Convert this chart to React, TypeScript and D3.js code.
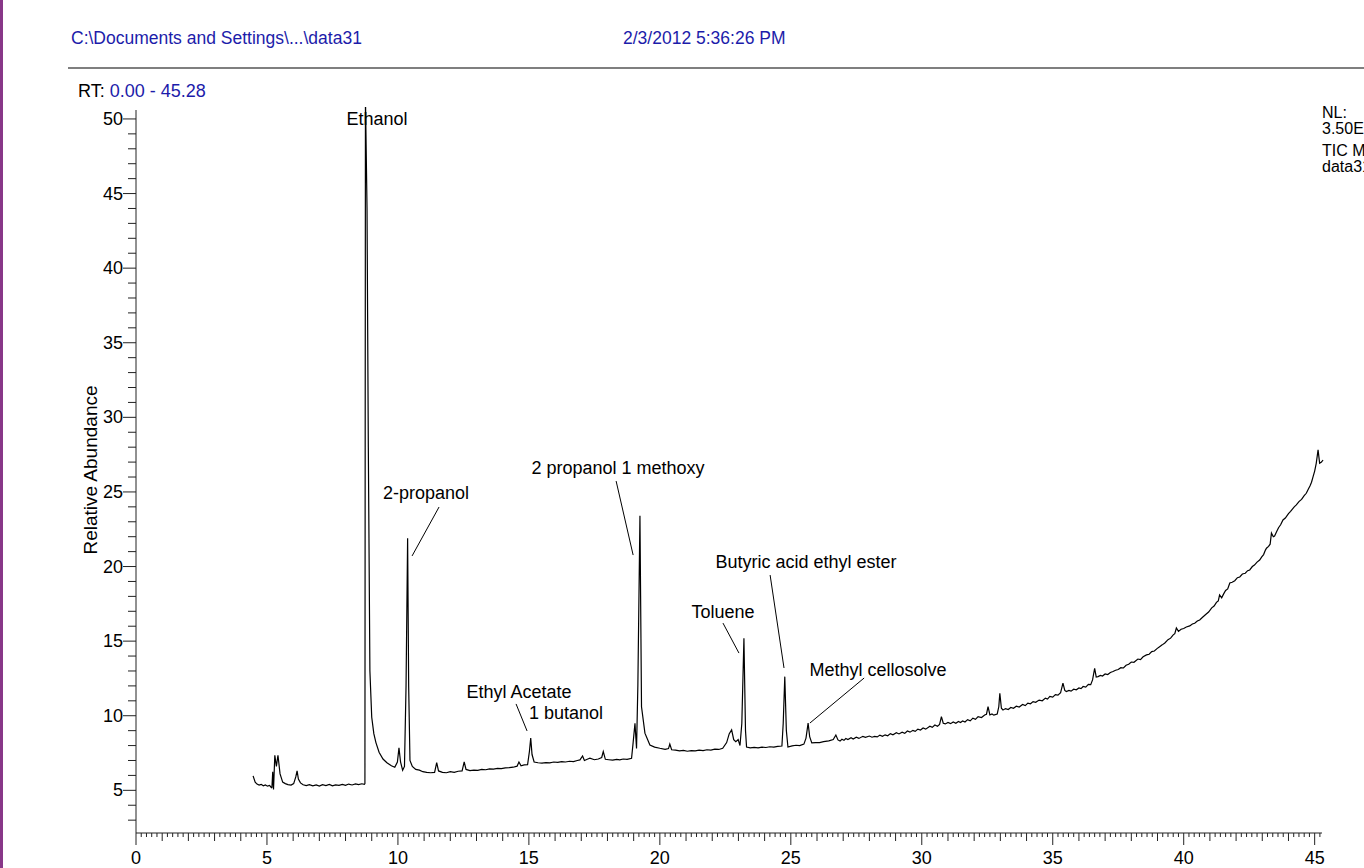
import * as d3 from 'd3';

// TIC chromatogram: [retention time (min), relative abundance]
const ticTrace: [number, number][] = [
  [4.47, 5.97], [4.55, 5.55], [4.62, 5.42], [4.7, 5.35], [4.78, 5.4], [4.86, 5.3], [4.94, 5.36],
  [5.02, 5.28], [5.1, 5.33], [5.17, 5.18], [5.19, 5.2], [5.22, 6.25], [5.25, 5.05], [5.3, 7.35],
  [5.36, 6.6], [5.42, 7.35], [5.5, 6.1], [5.6, 5.55], [5.7, 5.45], [5.8, 5.38], [5.92, 5.35],
  [6.02, 5.45], [6.1, 5.9], [6.15, 6.3], [6.2, 5.75], [6.28, 5.5], [6.38, 5.37], [6.5, 5.32],
  [6.62, 5.38], [6.75, 5.3], [6.88, 5.36], [7.0, 5.29], [7.12, 5.38], [7.25, 5.32], [7.38, 5.4],
  [7.5, 5.3], [7.62, 5.37], [7.75, 5.33], [7.88, 5.4], [8.0, 5.34], [8.12, 5.42], [8.25, 5.36],
  [8.38, 5.43], [8.5, 5.38], [8.62, 5.44], [8.72, 5.4], [8.74, 5.45], [8.76, 51.5], [8.82, 44],
  [8.87, 28], [8.93, 13.0], [9.0, 9.9], [9.08, 8.8], [9.16, 8.2], [9.28, 7.55], [9.43, 7.1],
  [9.58, 6.85], [9.75, 6.65], [9.88, 6.55], [9.98, 6.9], [10.04, 7.85], [10.1, 6.9], [10.18, 6.35],
  [10.25, 6.6], [10.31, 12], [10.37, 21.9], [10.41, 12], [10.46, 7.0], [10.55, 6.6], [10.68, 6.4],
  [10.82, 6.35], [10.95, 6.25], [11.1, 6.2], [11.25, 6.18], [11.4, 6.2], [11.48, 6.85], [11.55, 6.3],
  [11.7, 6.2], [11.85, 6.18], [12.0, 6.25], [12.15, 6.2], [12.3, 6.28], [12.45, 6.3], [12.53, 6.9],
  [12.6, 6.4], [12.75, 6.32], [12.9, 6.36], [13.05, 6.34], [13.2, 6.4], [13.35, 6.38], [13.5, 6.44],
  [13.65, 6.42], [13.8, 6.47], [13.95, 6.45], [14.1, 6.5], [14.25, 6.52], [14.4, 6.55], [14.55, 6.62],
  [14.62, 6.9], [14.7, 6.65], [14.82, 6.7], [14.95, 6.72], [15.02, 7.6], [15.07, 8.5], [15.12, 7.4],
  [15.2, 6.9], [15.35, 6.85], [15.5, 6.82], [15.65, 6.86], [15.8, 6.84], [15.95, 6.9], [16.1, 6.88],
  [16.25, 6.92], [16.4, 6.9], [16.55, 6.95], [16.7, 6.93], [16.85, 7.0], [16.95, 7.04], [17.05, 7.3],
  [17.12, 7.0], [17.25, 7.1], [17.33, 7.15], [17.5, 7.05], [17.65, 7.1], [17.78, 7.2], [17.84, 7.6],
  [17.92, 7.08], [18.05, 7.05], [18.2, 7.02], [18.35, 7.08], [18.47, 7.04], [18.6, 7.1], [18.75, 7.08],
  [18.92, 7.15], [18.98, 8.2], [19.05, 9.5], [19.11, 7.8], [19.16, 12], [19.24, 23.4], [19.3, 10.6],
  [19.43, 8.83], [19.62, 8.04], [19.8, 7.9], [20.0, 7.82], [20.2, 7.75], [20.33, 7.8], [20.38, 8.1],
  [20.45, 7.72], [20.6, 7.7], [20.75, 7.65], [20.9, 7.68], [21.05, 7.62], [21.2, 7.66], [21.35, 7.64],
  [21.5, 7.7], [21.65, 7.66], [21.8, 7.72], [21.95, 7.7], [22.1, 7.76], [22.25, 7.74], [22.4, 7.82],
  [22.55, 8.2], [22.65, 8.8], [22.74, 9.05], [22.82, 8.4], [22.9, 8.26], [22.99, 8.4], [23.06, 8.0],
  [23.13, 9.5], [23.21, 15.2], [23.27, 9.0], [23.31, 7.9], [23.45, 7.85], [23.6, 7.88], [23.75, 7.84],
  [23.9, 7.9], [24.05, 7.87], [24.2, 7.92], [24.35, 7.9], [24.5, 7.95], [24.66, 7.97], [24.71, 9.5],
  [24.77, 12.62], [24.83, 9.0], [24.89, 7.9], [25.05, 7.98], [25.2, 8.02], [25.34, 8.0], [25.5, 8.1],
  [25.58, 8.5], [25.66, 9.5], [25.72, 8.6], [25.8, 8.18], [25.95, 8.2], [26.1, 8.2], [26.25, 8.26],
  [26.45, 8.31], [26.62, 8.4], [26.72, 8.71], [26.8, 8.38], [26.88, 8.3], [26.95, 8.42],
  [27.03, 8.35], [27.1, 8.47], [27.18, 8.4], [27.3, 8.52], [27.38, 8.44], [27.5, 8.56], [27.6, 8.48],
  [27.75, 8.62], [27.85, 8.55], [28.0, 8.64], [28.1, 8.56], [28.2, 8.62], [28.3, 8.58], [28.4, 8.7],
  [28.5, 8.62], [28.6, 8.72], [28.7, 8.66], [28.8, 8.8], [28.9, 8.72], [29.03, 8.86], [29.13, 8.78],
  [29.25, 8.9], [29.35, 8.82], [29.45, 8.98], [29.55, 8.9], [29.66, 9.02], [29.75, 8.95], [29.85, 9.1],
  [29.95, 9.04], [30.05, 9.18], [30.15, 9.1], [30.31, 9.3], [30.4, 9.22], [30.5, 9.38], [30.6, 9.3],
  [30.68, 9.42], [30.75, 9.94], [30.82, 9.5], [30.9, 9.45], [31.0, 9.55], [31.1, 9.47], [31.2, 9.58],
  [31.3, 9.5], [31.4, 9.62], [31.48, 9.55], [31.56, 9.65], [31.65, 9.58], [31.75, 9.74], [31.85, 9.66],
  [31.95, 9.84], [32.05, 9.76], [32.15, 9.94], [32.28, 9.88], [32.4, 10.05], [32.47, 10.1],
  [32.53, 10.61], [32.6, 10.05], [32.68, 10.12], [32.75, 10.04], [32.88, 10.12], [32.94, 10.6],
  [32.98, 11.5], [33.04, 10.5], [33.1, 10.39], [33.2, 10.48], [33.3, 10.42], [33.4, 10.55],
  [33.5, 10.5], [33.61, 10.64], [33.72, 10.58], [33.85, 10.75], [33.95, 10.68], [34.05, 10.85],
  [34.15, 10.8], [34.25, 10.95], [34.35, 10.9], [34.48, 11.05], [34.6, 11.0], [34.72, 11.18],
  [34.8, 11.12], [34.89, 11.3], [35.0, 11.25], [35.1, 11.42], [35.2, 11.38], [35.3, 11.55],
  [35.39, 12.18], [35.46, 11.7], [35.52, 11.62], [35.62, 11.7], [35.7, 11.65], [35.8, 11.78],
  [35.9, 11.74], [36.0, 11.86], [36.08, 11.82], [36.16, 11.96], [36.26, 11.92], [36.36, 12.1],
  [36.45, 12.08], [36.52, 12.4], [36.6, 13.18], [36.66, 12.6], [36.73, 12.62], [36.82, 12.7],
  [36.9, 12.66], [37.0, 12.8], [37.1, 12.76], [37.2, 12.9], [37.3, 12.96], [37.4, 13.05], [37.5, 13.1],
  [37.6, 13.22], [37.7, 13.2], [37.8, 13.38], [37.9, 13.45], [38.0, 13.6], [38.1, 13.58],
  [38.25, 13.8], [38.35, 13.76], [38.45, 13.95], [38.58, 14.08], [38.68, 14.12], [38.78, 14.3],
  [38.88, 14.34], [38.98, 14.5], [39.08, 14.63], [39.18, 14.75], [39.28, 14.88], [39.4, 15.1],
  [39.5, 15.2], [39.6, 15.42], [39.66, 15.5], [39.72, 15.88], [39.8, 15.65], [39.9, 15.8],
  [40.0, 15.85], [40.1, 15.95], [40.23, 16.02], [40.33, 16.15], [40.42, 16.2], [40.52, 16.35],
  [40.61, 16.42], [40.72, 16.6], [40.85, 16.8], [40.95, 16.95], [41.07, 17.23], [41.16, 17.35],
  [41.25, 17.6], [41.32, 17.7], [41.37, 18.1], [41.45, 17.9], [41.52, 18.15], [41.6, 18.4],
  [41.68, 18.5], [41.76, 18.9], [41.85, 18.95], [41.95, 19.05], [42.05, 19.25], [42.14, 19.3],
  [42.24, 19.5], [42.35, 19.55], [42.44, 19.72], [42.52, 19.77], [42.62, 20.0], [42.7, 20.1],
  [42.8, 20.3], [42.9, 20.44], [42.98, 20.65], [43.05, 20.8], [43.12, 21.1], [43.16, 21.23],
  [43.24, 21.35], [43.3, 21.5], [43.35, 22.25], [43.42, 22.0], [43.47, 22.05], [43.55, 22.35],
  [43.62, 22.6], [43.7, 22.8], [43.79, 23.12], [43.88, 23.25], [44.0, 23.55], [44.08, 23.7],
  [44.15, 23.85], [44.22, 24.0], [44.3, 24.13], [44.4, 24.35], [44.5, 24.5], [44.6, 24.75],
  [44.68, 24.91], [44.76, 25.2], [44.82, 25.4], [44.88, 25.65], [44.94, 26.03], [45.0, 26.4],
  [45.06, 26.92], [45.13, 27.82], [45.19, 26.92], [45.26, 27.0], [45.32, 27.14],
];

// peak labels: text position and optional leader line, all in (RT, abundance)
const peakLabels = [
  { text: 'Ethanol', t: 9.2, a: 49.6, line: null },
  { text: '2-propanol', t: 11.07, a: 24.53, line: [11.57, 23.99, 10.54, 20.71] },
  { text: '2 propanol 1 methoxy', t: 18.4, a: 26.2, line: [18.33, 25.73, 18.98, 20.77] },
  { text: 'Toluene', t: 22.41, a: 16.55, line: [22.41, 16.21, 23.02, 14.2] },
  { text: 'Butyric acid ethyl ester', t: 25.58, a: 19.9, line: [24.21, 19.43, 24.74, 13.2] },
  { text: 'Methyl cellosolve', t: 28.33, a: 12.66, line: [27.8, 12.53, 25.73, 9.51] },
  { text: 'Ethyl Acetate', t: 14.62, a: 11.19, line: null },
  { text: '1 butanol', t: 16.42, a: 9.78, line: [14.51, 10.79, 14.93, 8.98] },
];

const rtRange = [0, 45.28];
const abundanceRange = [2.14, 50.6];
const xMajorTicks = [0, 5, 10, 15, 20, 25, 30, 35, 40, 45];
const yMajorTicks = [5, 10, 15, 20, 25, 30, 35, 40, 45, 50];

const headerPath = 'C:\\Documents and Settings\\...\\data31';
const headerDate = '2/3/2012 5:36:26 PM';
const rtLabel = '0.00 - 45.28';
const nlLines = ['NL:', '3.50E9'];
const ticLines = ['TIC  MS', 'data31'];

const W = 1364;
const H = 868;
const blue = '#1c1caa';
const font = '"Liberation Sans", Arial, sans-serif';

export default function App() {
  const x = d3.scaleLinear().domain(rtRange).range([136, 1322]);
  const y = d3.scaleLinear().domain(abundanceRange).range([833, 110]);

  const line = d3
    .line<[number, number]>()
    .x((d) => x(d[0]))
    .y((d) => y(d[1]));

  const xMinor = d3.range(0, 45.21, 0.2).map((v) => Math.round(v * 10) / 10);
  const yMinor = d3.range(3, 51, 1);
  const x0 = x(0);
  const yBase = y(abundanceRange[0]);

  return (
    <svg
      width={W}
      height={H}
      style={{ position: 'absolute', left: 0, top: 0, background: '#fff' }}
      fontFamily={font}
    >
      <rect x={0} y={0} width={W} height={H} fill="#fff" />
      <rect x={0} y={0} width={3} height={H} fill="#883788" />

      {/* header */}
      <text x={71} y={44} fontSize={17.5} fill={blue}>{headerPath}</text>
      <text x={623} y={44} fontSize={17.5} fill={blue}>{headerDate}</text>
      <line x1={68} x2={W} y1={68} y2={68} stroke="#555" strokeWidth={1.5} />
      <text x={78} y={97} fontSize={18} fill="#000">
        RT: <tspan fill={blue}>{rtLabel}</tspan>
      </text>

      {/* NL / trace info, cut by the window edge as in the original */}
      {nlLines.map((s, i) => (
        <text key={s} x={1322} y={118 + i * 16} fontSize={16} fill="#000">{s}</text>
      ))}
      {ticLines.map((s, i) => (
        <text key={s} x={1322} y={156 + i * 16} fontSize={16} fill="#000">{s}</text>
      ))}

      {/* y axis */}
      <line x1={x0} x2={x0} y1={yBase} y2={y(abundanceRange[1])} stroke="#222" />
      {yMinor.map((v) => {
        const major = v % 5 === 0;
        return (
          <line key={v} x1={x0 - (major ? 13 : 8)} x2={x0} y1={y(v)} y2={y(v)} stroke="#222" />
        );
      })}
      {yMajorTicks.map((v) => (
        <text key={v} x={x0 - 13} y={y(v) + 6} fontSize={18} textAnchor="end" fill="#000">{v}</text>
      ))}
      <text
        transform={`translate(97,${470}) rotate(-90)`}
        fontSize={19}
        textAnchor="middle"
        fill="#000"
      >
        Relative Abundance
      </text>

      {/* x axis */}
      <line x1={x0} x2={x(rtRange[1])} y1={yBase} y2={yBase} stroke="#222" />
      {xMinor.map((v) => {
        const len = v % 5 === 0 ? 12 : Number.isInteger(v) ? 8 : 4;
        return <line key={v} x1={x(v)} x2={x(v)} y1={yBase} y2={yBase + len} stroke="#222" />;
      })}
      {xMajorTicks.map((v) => (
        <text key={v} x={x(v)} y={864} fontSize={18} textAnchor="middle" fill="#000">{v}</text>
      ))}

      {/* trace */}
      <defs>
        <clipPath id="plot">
          <rect x={x0} y={107} width={1330 - x0} height={yBase - 107} />
        </clipPath>
      </defs>
      <path d={line(ticTrace) || ''} fill="none" stroke="#000" strokeWidth={1.2} clipPath="url(#plot)" />

      {/* peak labels */}
      {peakLabels.map((p) => (
        <g key={p.text}>
          {p.line && (
            <line
              x1={x(p.line[0])}
              y1={y(p.line[1])}
              x2={x(p.line[2])}
              y2={y(p.line[3])}
              stroke="#000"
              strokeWidth={1}
            />
          )}
          <text x={x(p.t)} y={y(p.a)} fontSize={18} textAnchor="middle" fill="#000">{p.text}</text>
        </g>
      ))}
    </svg>
  );
}
